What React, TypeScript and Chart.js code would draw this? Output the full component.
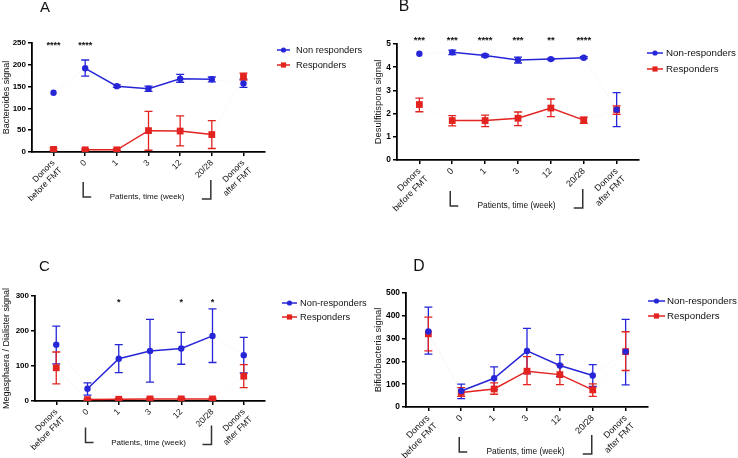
import React, { useEffect, useRef } from "react";
import { Chart, registerables } from "chart.js";

Chart.register(...registerables);

// ---------- shared categories ----------
const categories: (string | string[])[] = [
  ["Donors", "before FMT"],
  "0",
  "1",
  "3",
  "12",
  "20/28",
  ["Donors", "after FMT"],
];
const patientsLabel = "Patients, time (week)";

// ---------- Panel A : Bacteroides ----------
const aNonMean = [136, 192, 151, 145, 168, 167, 157];
const aNonLow = [136, 174, 148, 139, 160, 161, 148];
const aNonHigh = [136, 211, 154, 151, 178, 172, 167];
const aRespMean = [6, 5, 5, 49, 48, 40, 173];
const aRespLow = [3, 3, 3, 4, 14, 8, 165];
const aRespHigh = [9, 7, 7, 93, 83, 72, 181];
const aStars = ["****", "****", "", "", "", "", ""];
const aYTicks = [0, 50, 100, 150, 200, 250];

// ---------- Panel B : Desulfitispora ----------
const bNonMean = [4.58, 4.64, 4.5, 4.31, 4.35, 4.41, 2.17];
const bNonLow = [4.58, 4.54, 4.45, 4.18, 4.32, 4.37, 1.44];
const bNonHigh = [4.58, 4.74, 4.55, 4.43, 4.38, 4.45, 2.9];
const bRespMean = [2.39, 1.7, 1.7, 1.8, 2.24, 1.72, 2.16];
const bRespLow = [2.08, 1.47, 1.44, 1.48, 1.87, 1.58, 1.97];
const bRespHigh = [2.67, 1.91, 1.93, 2.07, 2.63, 1.85, 2.33];
const bStars = ["***", "***", "****", "***", "**", "****", ""];
const bYTicks = [0, 1, 2, 3, 4, 5];

// ---------- Panel C : Megasphaera / Dialister ----------
const cNonMean = [161, 35, 121, 143, 150, 186, 131];
const cNonLow = [106, 17, 81, 54, 105, 110, 80];
const cNonHigh = [214, 52, 161, 233, 196, 263, 182];
const cRespMean = [95, 4, 5, 6, 6, 6, 71];
const cRespLow = [49, 2, 3, 4, 4, 4, 38];
const cRespHigh = [140, 6, 7, 8, 8, 8, 104];
const cStars = ["", "", "*", "", "*", "*", ""];
const cYTicks = [0, 100, 200, 300];

// ---------- Panel D : Bifidobacteria ----------
const dNonMean = [331, 70, 126, 246, 182, 138, 243];
const dNonLow = [232, 37, 76, 147, 134, 90, 97];
const dNonHigh = [438, 100, 176, 345, 230, 186, 384];
const dRespMean = [321, 64, 79, 157, 142, 75, 243];
const dRespLow = [246, 47, 56, 98, 98, 47, 160];
const dRespHigh = [394, 85, 106, 221, 185, 101, 330];
const dStars = ["", "", "", "", "", "", ""];
const dYTicks = [0, 100, 200, 300, 400, 500];

const BLUE = "#2626d8";
const RED = "#e2231f";
const FONT = "'Liberation Sans', Arial, Helvetica, sans-serif";
const W = 369;
const H = 229;

type Series = { mean: number[]; low: number[]; high: number[] };
type PanelCfg = {
  letter: string;
  letterX: number;
  letterY: number;
  yTitle: string;
  yTicks: number[];
  non: Series;
  resp: Series;
  nonLabel: string;
  respLabel: string;
  stars: string[];
  starY: number;
  padL: number;
  yW: number;
  padR: number;
  padT: number;
  xH: number;
  legX1: number;
  legX2: number;
  legTX: number;
  legY1: number;
  legY2: number;
  patY: number;
  fs: number;
};

const panels: { cfg: PanelCfg; left: number; top: number }[] = [
  {
    left: 0,
    top: 0,
    cfg: {
      letter: "A", letterX: 45, letterY: 8,
      yTitle: "Bacteroides signal", yTicks: aYTicks,
      non: { mean: aNonMean, low: aNonLow, high: aNonHigh },
      resp: { mean: aRespMean, low: aRespLow, high: aRespHigh },
      nonLabel: "Non responders", respLabel: "Responders",
      stars: aStars, starY: 48,
      padL: 1, yW: 31, padR: 104, padT: 43, xH: 77,
      legX1: 277, legX2: 290, legTX: 296, legY1: 50, legY2: 65,
      patY: 197, fs: 1,
    },
  },
  {
    left: 369,
    top: 0,
    cfg: {
      letter: "B", letterX: 35, letterY: 7,
      yTitle: "Desulfitispora signal", yTicks: bYTicks,
      non: { mean: bNonMean, low: bNonLow, high: bNonHigh },
      resp: { mean: bRespMean, low: bRespLow, high: bRespHigh },
      nonLabel: "Non-responders", respLabel: "Responders",
      stars: bStars, starY: 43,
      padL: 4, yW: 24, padR: 99, padT: 44, xH: 69,
      legX1: 278, legX2: 294, legTX: 297, legY1: 53, legY2: 69,
      patY: 206, fs: 1.05,
    },
  },
  {
    left: 0,
    top: 229,
    cfg: {
      letter: "C", letterX: 44.5, letterY: 37.5,
      yTitle: "Megasphaera / Dialister signal", yTicks: cYTicks,
      non: { mean: cNonMean, low: cNonLow, high: cNonHigh },
      resp: { mean: cRespMean, low: cRespLow, high: cRespHigh },
      nonLabel: "Non-responders", respLabel: "Responders",
      stars: cStars, starY: 76,
      padL: 1, yW: 34, padR: 104, padT: 67, xH: 57,
      legX1: 282, legX2: 297, legTX: 300, legY1: 74, legY2: 88,
      patY: 213.5, fs: 1,
    },
  },
  {
    left: 369,
    top: 229,
    cfg: {
      letter: "D", letterX: 50, letterY: 37.5,
      yTitle: "Bifidobacteria signal", yTicks: dYTicks,
      non: { mean: dNonMean, low: dNonLow, high: dNonHigh },
      resp: { mean: dRespMean, low: dRespLow, high: dRespHigh },
      nonLabel: "Non-responders", respLabel: "Responders",
      stars: dStars, starY: 70,
      padL: 4, yW: 33, padR: 90, padT: 64, xH: 51,
      legX1: 279, legX2: 296, legTX: 298, legY1: 72, legY2: 87,
      patY: 223, fs: 1.05,
    },
  },
];

const inner = [1, 2, 3, 4, 5];
const donors = [0, 6];

function pts(vals: number[], idx: number[]) {
  return idx.map((i) => ({ x: i, y: vals[i] }));
}
function connectors(vals: number[]) {
  return [
    { x: 0, y: vals[0] },
    { x: 1, y: vals[1] },
    { x: 3, y: null as any },
    { x: 5, y: vals[5] },
    { x: 6, y: vals[6] },
  ];
}

function makeDecor(cfg: PanelCfg) {
  const f = (s: number) => s * cfg.fs;
  return {
    id: "panelDecor",
    beforeDatasetsDraw(chart: any) {
      const { ctx } = chart;
      const x = chart.scales.x;
      const y = chart.scales.y;
      ctx.save();
      const list: [Series, string][] = [
        [cfg.non, BLUE],
        [cfg.resp, RED],
      ];
      for (const [s, color] of list) {
        ctx.strokeStyle = color;
        ctx.lineWidth = 1.3;
        for (let i = 0; i < s.low.length; i++) {
          if (s.high[i] - s.low[i] <= 0) continue;
          const px = x.getPixelForValue(i);
          const p1 = y.getPixelForValue(s.low[i]);
          const p2 = y.getPixelForValue(s.high[i]);
          ctx.beginPath();
          ctx.moveTo(px, p1);
          ctx.lineTo(px, p2);
          ctx.moveTo(px - 4, p1);
          ctx.lineTo(px + 4, p1);
          ctx.moveTo(px - 4, p2);
          ctx.lineTo(px + 4, p2);
          ctx.stroke();
        }
      }
      ctx.restore();
    },
    afterDraw(chart: any) {
      const { ctx } = chart;
      const x = chart.scales.x;
      ctx.save();
      // panel letter
      ctx.fillStyle = "#111";
      ctx.font = `${f(15)}px ${FONT}`;
      ctx.textAlign = "center";
      ctx.textBaseline = "middle";
      ctx.fillText(cfg.letter, cfg.letterX, cfg.letterY);

      // significance stars
      ctx.font = `bold ${f(9)}px ${FONT}`;
      ctx.textBaseline = "alphabetic";
      cfg.stars.forEach((s, i) => {
        if (!s) return;
        ctx.fillText(s, x.getPixelForValue(i), cfg.starY);
      });

      // legend
      const rows: [string, string, string, number][] = [
        [cfg.nonLabel, BLUE, "circle", cfg.legY1],
        [cfg.respLabel, RED, "rect", cfg.legY2],
      ];
      for (const [label, color, shape, ly] of rows) {
        ctx.strokeStyle = color;
        ctx.fillStyle = color;
        ctx.lineWidth = 1.5;
        ctx.beginPath();
        ctx.moveTo(cfg.legX1, ly);
        ctx.lineTo(cfg.legX2, ly);
        ctx.stroke();
        const cx = (cfg.legX1 + cfg.legX2) / 2;
        ctx.beginPath();
        if (shape === "circle") {
          ctx.arc(cx, ly, 2.6, 0, Math.PI * 2);
        } else {
          ctx.rect(cx - 2.6, ly - 2.6, 5.2, 5.2);
        }
        ctx.fill();
        ctx.fillStyle = "#111";
        ctx.font = `${f(9.3)}px ${FONT}`;
        ctx.textAlign = "left";
        ctx.textBaseline = "middle";
        ctx.fillText(label, cfg.legTX, ly);
      }

      // patients label with brackets
      const xl = x.getPixelForValue(1) - 2;
      const xr = x.getPixelForValue(5) - 1;
      ctx.strokeStyle = "#333";
      ctx.lineWidth = 1.5;
      ctx.beginPath();
      ctx.moveTo(xl, cfg.patY - 15);
      ctx.lineTo(xl, cfg.patY);
      ctx.lineTo(xl + 8, cfg.patY);
      ctx.moveTo(xr, cfg.patY - 17);
      ctx.lineTo(xr, cfg.patY + 2);
      ctx.lineTo(xr - 9, cfg.patY + 2);
      ctx.stroke();
      ctx.fillStyle = "#111";
      ctx.font = `${f(8)}px ${FONT}`;
      ctx.textAlign = "center";
      ctx.textBaseline = "middle";
      ctx.fillText(patientsLabel, (xl + xr) / 2, cfg.patY);
      ctx.restore();
    },
  };
}

function buildConfig(cfg: PanelCfg): any {
  const f = (s: number) => s * cfg.fs;
  const yMax = cfg.yTicks[cfg.yTicks.length - 1];
  const line = (s: Series, color: string, style: string, radius: number) => [
    {
      data: pts(s.mean, inner),
      borderColor: color,
      backgroundColor: color,
      borderWidth: 1.5,
      pointRadius: radius,
      pointStyle: style,
      pointBorderWidth: 0,
      showLine: true,
    },
    {
      data: pts(s.mean, donors),
      borderColor: color,
      backgroundColor: color,
      borderWidth: 0,
      pointRadius: radius,
      pointStyle: style,
      pointBorderWidth: 0,
      showLine: false,
    },
  ];
  const faint = (s: Series, color: string) => ({
    data: connectors(s.mean),
    borderColor: color,
    borderWidth: 1,
    borderDash: [2, 2],
    pointRadius: 0,
    spanGaps: false,
    showLine: true,
  });
  return {
    type: "line",
    data: {
      datasets: [
        faint(cfg.non, "rgba(42,42,214,0.06)"),
        faint(cfg.resp, "rgba(226,35,31,0.06)"),
        ...line(cfg.non, BLUE, "circle", 3.2),
        ...line(cfg.resp, RED, "rect", 4.8),
      ],
    },
    options: {
      responsive: false,
      animation: false,
      events: [],
      layout: {
        padding: { left: cfg.padL, right: cfg.padR, top: cfg.padT, bottom: 0 },
      },
      plugins: {
        legend: { display: false },
        tooltip: { enabled: false },
        title: { display: false },
      },
      scales: {
        x: {
          type: "linear",
          min: -0.68,
          max: 6.68,
          afterBuildTicks: (s: any) => {
            s.ticks = categories.map((_, i) => ({ value: i }));
          },
          afterFit: (s: any) => {
            s.height = cfg.xH;
          },
          ticks: {
            autoSkip: false,
            minRotation: 45,
            maxRotation: 45,
            padding: 2,
            color: "#111",
            font: { family: FONT, size: f(8.5) },
            callback: (v: any) => categories[Math.round(Number(v))],
          },
          grid: {
            drawOnChartArea: false,
            drawTicks: true,
            tickLength: 4,
            color: "#000",
            lineWidth: 1.5,
          },
          border: { display: true, color: "#000", width: 1.8 },
        },
        y: {
          type: "linear",
          min: 0,
          max: yMax,
          afterBuildTicks: (s: any) => {
            s.ticks = cfg.yTicks.map((v) => ({ value: v }));
          },
          afterFit: (s: any) => {
            s.width = cfg.yW;
          },
          ticks: {
            padding: 2,
            color: "#000",
            font: { family: FONT, size: f(8), weight: "bold" },
          },
          grid: {
            drawOnChartArea: false,
            drawTicks: true,
            tickLength: 4,
            color: "#000",
            lineWidth: 1.5,
          },
          border: { display: true, color: "#000", width: 1.8 },
          title: {
            display: true,
            text: cfg.yTitle,
            color: "#111",
            padding: 0,
            font: { family: FONT, size: f(9) },
          },
        },
      },
    },
    plugins: [makeDecor(cfg)],
  };
}

function Panel({ cfg, left, top }: { cfg: PanelCfg; left: number; top: number }) {
  const ref = useRef<HTMLCanvasElement>(null);
  useEffect(() => {
    if (!ref.current) return;
    const chart = new Chart(ref.current, buildConfig(cfg));
    return () => chart.destroy();
  }, [cfg]);
  return (
    <canvas
      ref={ref}
      width={W}
      height={H}
      style={{ position: "absolute", left, top, width: W, height: H }}
    />
  );
}

export default function App() {
  return (
    <div
      style={{
        position: "absolute",
        left: 0,
        top: 0,
        width: 738,
        height: 458,
        background: "#fff",
        overflow: "hidden",
      }}
    >
      {panels.map((p, i) => (
        <Panel key={i} cfg={p.cfg} left={p.left} top={p.top} />
      ))}
    </div>
  );
}
